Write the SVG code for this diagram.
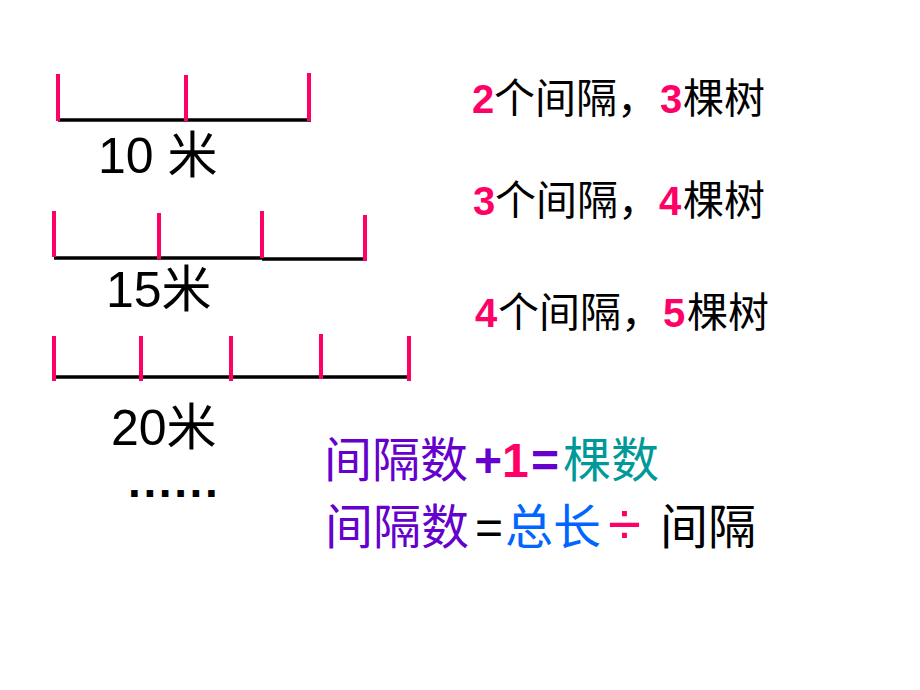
<svg xmlns="http://www.w3.org/2000/svg" width="920" height="690" viewBox="0 0 920 690">
<style>
.base{stroke:#000;stroke-width:3.5;fill:none}
.tick{stroke:#FF0066;stroke-width:4;fill:none}
.lbl{font-family:"Liberation Sans","Noto Sans CJK SC",sans-serif;font-size:50px;fill:#000}
.row{font-family:"Liberation Sans","Noto Sans CJK SC",sans-serif;font-size:41px;fill:#000}
.num{font-weight:bold;fill:#FF0066;font-size:40px}
.f{font-family:"Liberation Sans","Noto Sans CJK SC",sans-serif;font-size:48px}
.pur{fill:#6600CC}
.teal{fill:#009999}
.blue{fill:#0066FF}
.pink{fill:#FF0066}
.blk{fill:#000}
.b{font-weight:bold}
</style>
<rect width="920" height="690" fill="#fff"/>
<g id="segment-10m">
<line class="base" x1="58" y1="120" x2="311" y2="120"/>
<line class="tick" x1="58" y1="74" x2="58" y2="121"/>
<line class="tick" x1="186" y1="75" x2="186" y2="121"/>
<line class="tick" x1="309" y1="73" x2="309" y2="121"/>
<text class="lbl" x="98" y="173">10 米</text>
</g>
<g id="segment-15m">
<line class="base" x1="54" y1="258" x2="262" y2="258"/>
<line class="base" x1="262" y1="259" x2="363" y2="259"/>
<line class="tick" x1="54" y1="211" x2="54" y2="257"/>
<line class="tick" x1="159" y1="213" x2="159" y2="259"/>
<line class="tick" x1="262" y1="211" x2="262" y2="258"/>
<line class="tick" x1="365" y1="215" x2="365" y2="261"/>
<text class="lbl" x="106" y="307">15米</text>
</g>
<g id="segment-20m">
<line class="base" x1="54" y1="377" x2="409" y2="377"/>
<line class="tick" x1="54" y1="336" x2="54" y2="381"/>
<line class="tick" x1="141" y1="336" x2="141" y2="381"/>
<line class="tick" x1="231" y1="336" x2="231" y2="381"/>
<line class="tick" x1="321" y1="334" x2="321" y2="379"/>
<line class="tick" x1="409" y1="336" x2="409" y2="381"/>
<text class="lbl" x="111" y="445">20米</text>
</g>
<g id="ellipsis">
<text x="128" y="497" font-family="Liberation Sans, sans-serif" font-size="46" font-weight="bold" letter-spacing="2.6" fill="#000">......</text>
</g>
<g id="row-1">
<text class="row" y="113"><tspan class="num" x="472">2</tspan><tspan x="494">个间隔，</tspan><tspan class="num" x="660">3</tspan><tspan x="683">棵树</tspan></text>
</g>
<g id="row-2">
<text class="row" y="215"><tspan class="num" x="473">3</tspan><tspan x="495">个间隔，</tspan><tspan class="num" x="659">4</tspan><tspan x="683">棵树</tspan></text>
</g>
<g id="row-3">
<text class="row" y="327"><tspan class="num" x="475">4</tspan><tspan x="498">个间隔，</tspan><tspan class="num" x="663">5</tspan><tspan x="687">棵树</tspan></text>
</g>
<g id="formula-1">
<text class="f" y="477"><tspan class="pur" x="324">间隔数</tspan><tspan class="pur b" x="474">+</tspan><tspan class="pink b" x="502">1</tspan><tspan class="pur b" x="531">=</tspan><tspan class="teal" x="563">棵数</tspan></text>
</g>
<g id="formula-2">
<text class="f" y="544"><tspan class="pur" x="325">间隔数</tspan><tspan class="blk" x="475">=</tspan><tspan class="blue" x="505">总长</tspan><tspan class="pink" x="608" font-size="60">÷</tspan><tspan class="blk" x="660">间隔</tspan></text>
</g>
<g id="connectors"></g>
</svg>
